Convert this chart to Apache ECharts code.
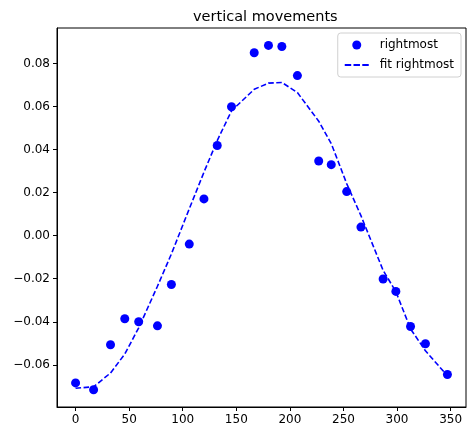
<!DOCTYPE html>
<html>
<head>
<meta charset="utf-8">
<script src="https://cdn.jsdelivr.net/npm/echarts@6/dist/echarts.min.js"></script>
<style>html,body{margin:0;padding:0;background:#fff}#c{width:467px;height:429px}</style>
</head>
<body>
<div id="c"></div>
<script>
const titleText = 'vertical movements';
const angles = [0, 16.8, 32.6, 45.9, 58.9, 76.4, 89.4, 106.1, 119.8, 132.2, 145.5, 166.7, 180, 192.5, 207, 226.9, 238.6, 253, 266.3, 287, 298.9, 312.6, 326.5, 347];
const measured = [-0.0684, -0.0716, -0.0507, -0.0386, -0.0400, -0.0419, -0.0227, -0.0039, 0.0171, 0.0419, 0.0599, 0.0850, 0.0884, 0.0879, 0.0744, 0.0347, 0.0330, 0.0205, 0.0040, -0.0201, -0.0259, -0.0422, -0.0502, -0.0645];
const fitted = [-0.0709, -0.0702, -0.0638, -0.0550, -0.0428, -0.0235, -0.0085, 0.0125, 0.0295, 0.0442, 0.0580, 0.0680, 0.0709, 0.0712, 0.0665, 0.0532, 0.0428, 0.0242, 0.0093, -0.0161, -0.0260, -0.0433, -0.0535, -0.0651];
const xTicks = [0, 50, 100, 150, 200, 250, 300, 350];
const yTicks = [-0.06, -0.04, -0.02, 0.00, 0.02, 0.04, 0.06, 0.08];
const seriesNames = ['rightmost', 'fit rightmost'];

const chart = echarts.init(document.getElementById('c'), null, {renderer: 'canvas'});
const font = 'DejaVu Sans';
const dashIcon = 'path://M0,0h7v2h-7z M9.5,0h7v2h-7z M19,0h7v2h-7z';
chart.setOption({
  animation: false,
  backgroundColor: '#fff',
  title: {
    text: titleText, left: 188, top: 5,
    textStyle: {fontFamily: font, fontSize: 14.5, fontWeight: 'normal', color: '#000'}
  },
  legend: {
    orient: 'vertical', right: 6, top: 33, align: 'left',
    itemWidth: 24, itemHeight: 9, itemGap: 8,
    padding: [6, 7, 6, 7],
    borderColor: '#d0d0d0', borderWidth: 1, borderRadius: 3,
    backgroundColor: 'rgba(255,255,255,0.8)',
    textStyle: {fontFamily: font, fontSize: 12, color: '#000', padding: [0, 0, 0, 6]},
    data: [
      {name: seriesNames[0], icon: 'circle', itemStyle: {color: '#0000ff', opacity: 1}},
      {name: seriesNames[1], icon: dashIcon, itemStyle: {color: '#0000ff'}, lineStyle: {width: 0, opacity: 0}}
    ]
  },
  grid: {
    left: 57, top: 28, right: 1, bottom: 22,
    show: true, borderColor: '#000', borderWidth: 1, backgroundColor: 'transparent'
  },
  xAxis: {
    type: 'value', min: -17.35, max: 364.35,
    splitLine: {show: false},
    axisLine: {show: true, onZero: false, lineStyle: {color: '#000'}},
    axisTick: {show: true, length: 4, inside: false, customValues: xTicks, lineStyle: {color: '#000'}},
    axisLabel: {customValues: xTicks, fontFamily: font, fontSize: 12, color: '#000', margin: 7,
      formatter: v => String(Math.round(v))}
  },
  yAxis: {
    type: 'value', min: -0.0796, max: 0.0965,
    splitLine: {show: false},
    axisLine: {show: true, onZero: false, lineStyle: {color: '#000'}},
    axisTick: {show: true, length: 4, inside: false, customValues: yTicks, lineStyle: {color: '#000'}},
    axisLabel: {customValues: yTicks, fontFamily: font, fontSize: 12, color: '#000', margin: 7,
      formatter: v => (v < -1e-9 ? '\u2212' : '') + Math.abs(v).toFixed(2)}
  },
  series: [
    {
      name: seriesNames[0], type: 'scatter', symbol: 'circle', symbolSize: 9,
      itemStyle: {color: '#0000ff', opacity: 1},
      data: angles.map((a, i) => [a, measured[i]]), z: 3
    },
    {
      name: seriesNames[1], type: 'line', showSymbol: false, symbol: 'none',
      lineStyle: {color: '#0000ff', width: 1.6, type: [5.5, 2.5]},
      itemStyle: {color: '#0000ff'},
      data: angles.map((a, i) => [a, fitted[i]]), z: 2
    }
  ]
});
</script>
</body>
</html>
